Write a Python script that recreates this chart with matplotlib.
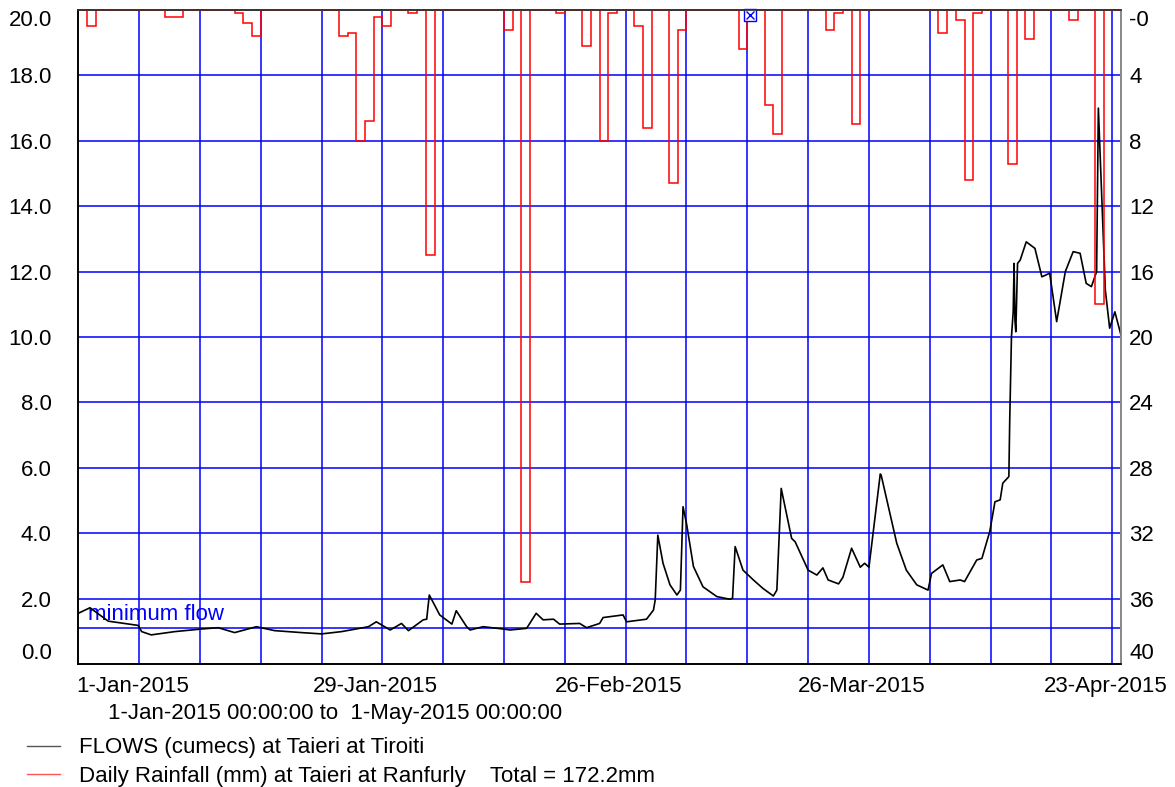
import numpy as np
import matplotlib
matplotlib.use("Agg")
import matplotlib.pyplot as plt
import matplotlib.transforms as mtransforms

plt.rcParams['font.family'] = ['Liberation Sans', 'DejaVu Sans']

# days counted from 1-Jan-2015 00:00
rain_days = [1, 10, 11, 18, 19, 20, 30, 31, 32, 33, 34, 35, 38, 40, 49, 51, 55, 58,
             60, 61, 64, 65, 68, 69, 76, 79, 80, 86, 87, 89, 99, 101, 102, 103,
             107, 109, 114, 117]
rain_mm = [1.0, 0.4, 0.4, 0.2, 0.8, 1.6, 1.6, 1.4, 8.0, 6.8, 0.4, 1.0, 0.2, 15.0, 1.2,
           35.0, 0.2, 2.2, 8.0, 0.2, 1.0, 7.2, 10.6, 1.2, 2.4, 5.8, 7.6, 1.2, 0.2,
           7.0, 1.4, 0.6, 10.4, 0.2, 9.4, 1.8, 0.6, 18.0]

flow_day = [0.0, 1.35, 3.45, 6.9, 7.3, 8.4, 11.1, 14.2, 16.1, 18.0, 20.5, 22.6, 25.7,
            28.0, 30.3, 33.4, 34.3, 35.9, 37.2, 38.0, 39.7, 40.1, 40.4, 41.6, 43.0,
            43.5, 44.7, 45.1, 46.6, 48.9, 49.7, 51.6, 52.7, 53.5, 54.7, 55.4, 57.7,
            58.5, 60.0, 60.4, 62.7, 63.1, 65.4, 66.2, 66.4, 66.7, 67.3, 68.1, 68.9,
            69.3, 69.6, 70.0, 70.8, 71.9, 73.5, 75.0, 75.3, 75.6, 76.5, 77.7, 78.8,
            80.0, 80.4, 80.9, 82.1, 82.5, 84.0, 85.0, 85.7, 86.3, 87.5, 88.0, 89.0,
            90.0, 90.5, 91.0, 92.3, 92.4, 94.2, 95.3, 96.5, 97.8, 98.2, 99.5, 100.3,
            101.5, 102.0, 103.4, 104.0, 104.9, 105.5, 106.1, 106.4, 107.1, 107.2,
            107.4, 107.6, 107.7, 107.8, 107.9, 108.1, 108.4, 109.1, 110.1, 110.9,
            111.8, 112.6, 113.6, 114.5, 115.3, 116.0, 116.6, 117.2, 117.4, 118.2,
            118.7, 119.3, 120.0]
flow_cumecs = [1.55, 1.72, 1.31, 1.18, 0.99, 0.89, 0.99, 1.07, 1.11, 0.96, 1.14, 1.02,
               0.96, 0.92, 0.99, 1.14, 1.29, 1.04, 1.24, 1.02, 1.35, 1.37, 2.11, 1.50,
               1.22, 1.63, 1.14, 1.04, 1.14, 1.07, 1.04, 1.09, 1.55, 1.35, 1.37, 1.22,
               1.24, 1.11, 1.24, 1.42, 1.50, 1.29, 1.37, 1.65, 1.96, 3.94, 3.08, 2.42,
               2.11, 2.26, 4.81, 4.30, 2.98, 2.36, 2.06, 1.98, 2.01, 3.59, 2.87, 2.57,
               2.31, 2.08, 2.26, 5.37, 3.84, 3.74, 2.87, 2.72, 2.94, 2.57, 2.45, 2.65,
               3.54, 2.96, 3.08, 2.96, 5.81, 5.78, 3.69, 2.87, 2.42, 2.26, 2.77, 3.03,
               2.52, 2.57, 2.52, 3.18, 3.23, 4.05, 4.96, 5.02, 5.53, 5.73, 7.46, 10.01,
               10.77, 12.25, 10.52, 10.16, 12.25, 12.35, 12.91, 12.71, 11.84, 11.95,
               10.47, 12.0, 12.61, 12.56, 11.64, 11.54, 12.0, 17.0, 11.44, 10.27,
               10.77, 10.06]

min_flow = 1.1
missing_day = [77.3]
missing_mm = [0.33]

label_days = [0, 28, 56, 84, 112]
label_text = ['1-Jan-2015', '29-Jan-2015', '26-Feb-2015', '26-Mar-2015', '23-Apr-2015']
flow_ticks = [0, 2, 4, 6, 8, 10, 12, 14, 16, 18, 20]
rain_ticks = [0, 4, 8, 12, 16, 20, 24, 28, 32, 36, 40]
rain_tick_text = ['-0', '4', '8', '12', '16', '20', '24', '28', '32', '36', '40']
n_days = 120

rain = np.zeros(n_days)
rain[rain_days] = rain_mm
edges = np.arange(n_days + 1)

FS = 16

fig = plt.figure(figsize=(11.75, 7.87), dpi=100)
ax = fig.add_axes([0.0666, 0.1563, 0.8874, 0.831])
ax2 = ax.twinx()

ax.set_xlim(0, n_days)
ax.set_ylim(0, 20)
ax2.set_ylim(40, 0)

# weekly grid + flow grid
for d in range(7, n_days, 7):
    ax.axvline(d, color='blue', lw=1.1, zorder=1)
for v in flow_ticks[1:-1]:
    ax.axhline(v, color='blue', lw=1.1, zorder=1)

ax.axhline(min_flow, color='blue', lw=1.1, zorder=2)
ax.text(1.1, min_flow + 0.08, 'minimum flow', color='blue', fontsize=FS,
        va='bottom', ha='left', zorder=3)

ax.plot(flow_day, flow_cumecs, color='black', lw=1.2, zorder=4)

ax2.stairs(rain, edges, baseline=0, fill=False, color='red', lw=1.1, clip_on=False)
ax2.plot(missing_day, missing_mm, marker='s', ms=8, mfc='white', mec='blue', mew=1,
         ls='none', clip_on=False)
ax2.plot(missing_day, missing_mm, marker='x', ms=6, mec='blue', mew=1, ls='none',
         clip_on=False)

# ticks
ax.set_yticks(flow_ticks)
ax.set_yticklabels([f'{v:.1f}' for v in flow_ticks])
ax2.set_yticks(rain_ticks)
ax2.set_yticklabels(rain_tick_text)
ax.set_xticks(label_days)
ax.set_xticklabels(label_text)
ax.tick_params(axis='both', length=0, labelsize=FS)
ax.tick_params(axis='y', pad=19)
ax.tick_params(axis='x', pad=9)
ax2.tick_params(axis='y', length=0, labelsize=FS, pad=6)

offset = mtransforms.ScaledTranslation(0.54, 0, fig.dpi_scale_trans)
for lab in ax.get_xticklabels():
    lab.set_transform(lab.get_transform() + offset)
ylabs = ax.get_yticklabels()
ylabs[0].set_verticalalignment('bottom')
ylabs[-1].set_verticalalignment('top')
rlabs = ax2.get_yticklabels()
rlabs[0].set_verticalalignment('top')
rlabs[-1].set_verticalalignment('bottom')

for a in (ax, ax2):
    a.spines['left'].set_color('black')
    a.spines['bottom'].set_color('black')
    a.spines['top'].set_color('#333333')
    a.spines['right'].set_color('#888888')
    for s in a.spines.values():
        s.set_linewidth(1.2)

fig.text(0.092, 0.094, '1-Jan-2015 00:00:00 to  1-May-2015 00:00:00', fontsize=FS,
         va='center', ha='left')

total = rain.sum()
fig.legend(handles=[plt.Line2D([], [], color='#555555', lw=1),
                    plt.Line2D([], [], color='#ff5555', lw=1)],
           labels=['FLOWS (cumecs) at Taieri at Tiroiti',
                   f'Daily Rainfall (mm) at Taieri at Ranfurly    Total = {total:.1f}mm'],
           loc='upper left', bbox_to_anchor=(0.023, 0.063), frameon=False,
           fontsize=FS, handlelength=1.5, handletextpad=0.85, labelspacing=0.35,
           borderpad=0, borderaxespad=0)

fig.savefig('out.png', dpi=100)
